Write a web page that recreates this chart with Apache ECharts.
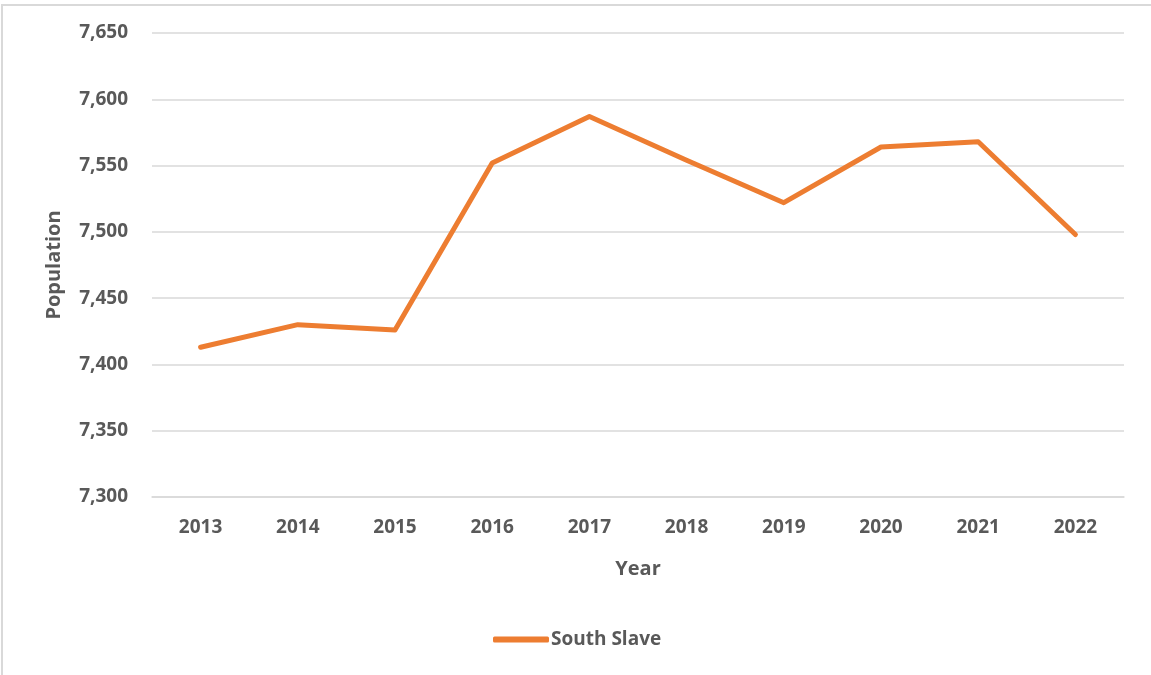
<!DOCTYPE html>
<html>
<head>
<meta charset="utf-8">
<script src="https://cdn.jsdelivr.net/npm/echarts@6/dist/echarts.min.js"></script>
<style>
    html, body { margin: 0; padding: 0; background: #fff; }
    #frame {
        position: absolute;
        left: 1px;
        top: 4px;
        width: 1160px;
        height: 680px;
        border-left: 2px solid #d9d9d9;
        border-top: 2px solid #d9d9d9;
    }
    #chart {
        position: absolute;
        left: 0;
        top: 0;
        width: 1151px;
        height: 675px;
    }
</style>
</head>
<body>
<div id="frame"></div>
<div id="chart"></div>
<script>
// data
const years = ['2013', '2014', '2015', '2016', '2017', '2018', '2019', '2020', '2021', '2022'];
const southSlave = [7413, 7430, 7426, 7552, 7587, 7554, 7522, 7564, 7568, 7498];
const seriesName = 'South Slave';

const textColor = '#595959';
const fontFamily = '"Open Sans", "Noto Sans", sans-serif';

const chart = echarts.init(document.getElementById('chart'));
chart.setOption({
    animation: false,
    textStyle: { fontFamily: fontFamily },
    grid: { left: 152, right: 27, top: 33, bottom: 178 },
    legend: {
        data: [seriesName],
        left: 493,
        top: 630,
        padding: 0,
        icon: 'roundRect',
        itemWidth: 56,
        itemHeight: 6,
        itemGap: 10,
        textStyle: { color: textColor, fontSize: 19, fontWeight: 'bold', fontFamily: fontFamily, padding: [0, 0, 0, -3] }
    },
    xAxis: {
        type: 'category',
        data: years,
        boundaryGap: true,
        name: 'Year',
        nameLocation: 'middle',
        nameGap: 62,
        nameTextStyle: { color: textColor, fontSize: 20, fontWeight: 'bold' },
        axisLine: { show: true, lineStyle: { color: '#d9d9d9', width: 1.5 } },
        axisTick: { show: false },
        axisLabel: { color: textColor, fontSize: 19, fontWeight: 'bold', margin: 21 }
    },
    yAxis: {
        type: 'value',
        min: 7300,
        max: 7650,
        interval: 50,
        name: 'Population',
        nameLocation: 'middle',
        nameGap: 88,
        nameRotate: 90,
        nameTextStyle: { color: textColor, fontSize: 20, fontWeight: 'bold' },
        axisLine: { show: false },
        axisTick: { show: false },
        axisLabel: {
            color: textColor,
            fontSize: 19,
            fontWeight: 'bold',
            margin: 24,
            formatter: v => v.toLocaleString('en-US')
        },
        splitLine: { lineStyle: { color: '#d9d9d9', width: 1.5 } }
    },
    series: [{
        name: seriesName,
        type: 'line',
        data: southSlave,
        symbol: 'none',
        itemStyle: { color: '#ED7D31' },
        lineStyle: { color: '#ED7D31', width: 5, cap: 'round', join: 'round' }
    }]
});
</script>
</body>
</html>
